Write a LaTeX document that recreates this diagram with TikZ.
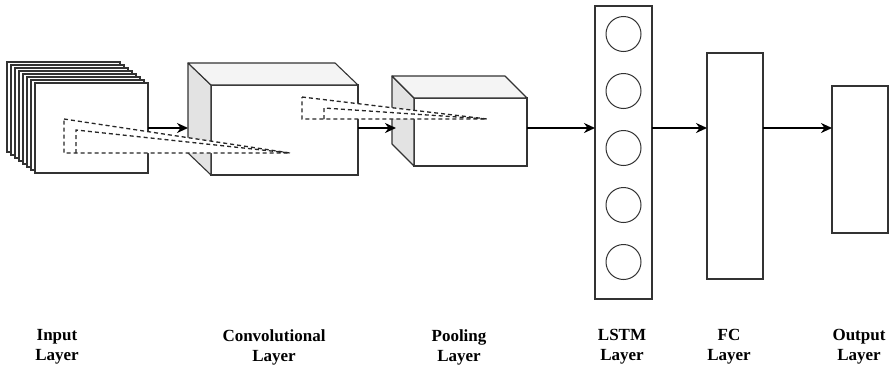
\documentclass[tikz,border=0pt]{standalone}
\usepackage{fontspec}
\setmainfont{Liberation Serif}
\usetikzlibrary{arrows.meta,positioning}

\begin{document}
\begin{tikzpicture}[
  x=1pt, y=-1pt,
  >=Stealth,
  line/.style={draw=black!80, line width=1.1pt},
  face/.style={rectangle, line, fill=white, inner sep=0pt, outer sep=0pt},
  side/.style={line, fill=gray!22, line join=round},
  lid/.style={line, fill=gray!9, line join=round},
  kernel/.style={draw=black!85, line width=1.3pt, dash pattern=on 4pt off 3pt, fill=white},
  unit/.style={circle, draw=black!80, line width=1pt, minimum size=35pt, inner sep=0pt},
  arrow/.style={-{Stealth[length=11pt,width=10pt]}, line width=2pt, black},
  caption/.style={font=\bfseries\fontsize{17}{20}\selectfont, align=center}
]
\useasboundingbox (0,0) rectangle (893,370);
\coordinate (flow) at (0,128);

\foreach \k in {7,...,1}
  \node[face, minimum width=113pt, minimum height=90pt] (sheet\k) at (91.5-4*\k, 128-3*\k) {};
\node[face, minimum width=113pt, minimum height=90pt] (inp) at (91.5,128) {};

\node[face, minimum width=147pt, minimum height=90pt] (cnv) at (284.5,130) {};
\filldraw[side] (cnv.north west) -- ++(-23,-22) -- ++(0,90) -- (cnv.south west) -- cycle;
\filldraw[lid] (cnv.north west) -- ++(-23,-22) -- ++(147,0) -- (cnv.north east) -- cycle;
\coordinate (cnvback) at ([xshift=-23pt]cnv.west);

\node[face, minimum width=113pt, minimum height=68pt] (pool) at (470.5,132) {};
\filldraw[side] (pool.north west) -- ++(-22,-22) -- ++(0,68) -- (pool.south west) -- cycle;
\filldraw[lid] (pool.north west) -- ++(-22,-22) -- ++(113,0) -- (pool.north east) -- cycle;
\coordinate (pooltip) at ([xshift=-18pt]pool.west);

\filldraw[kernel] (64,119) -- (290,153) -- (64,153) -- cycle;
\draw[kernel, fill=none] (76,153) -- (76,130) -- (290,153);
\filldraw[kernel] (302,97) -- (487,119) -- (302,119) -- cycle;
\draw[kernel, fill=none] (324,119) -- (324,108) -- (487,119);

\node[face, minimum width=57pt, minimum height=293pt] (lstm) at (623.5,152.5) {};
\foreach \k in {0,...,4}
  \node[unit] (cell\k) at (623.5, 34+57*\k) {};

\node[face, minimum width=56pt, minimum height=226pt] (fc) at (735,166) {};
\node[face, minimum width=56pt, minimum height=147pt] (outp) at (860,159.5) {};

\draw[arrow] (inp.east |- flow) -- (cnvback |- flow);
\draw[arrow] (cnv.east |- flow) -- (pooltip |- flow);
\draw[arrow] (pool.east |- flow) -- (lstm.west |- flow);
\draw[arrow] (lstm.east |- flow) -- (fc.west |- flow);
\draw[arrow] (fc.east |- flow) -- (outp.west |- flow);

\node[caption] (capin) at (57,347) {Input\\Layer};
\node[caption] (capcnv) at (274,347) {Convolutional\\Layer};
\node[caption] (cappool) at (459,347) {Pooling\\Layer};
\node[caption] (caplstm) at (622,347) {LSTM\\Layer};
\node[caption] (capfc) at (729,347) {FC\\Layer};
\node[caption] (capout) at (859,347) {Output\\Layer};
\end{tikzpicture}
\end{document}
